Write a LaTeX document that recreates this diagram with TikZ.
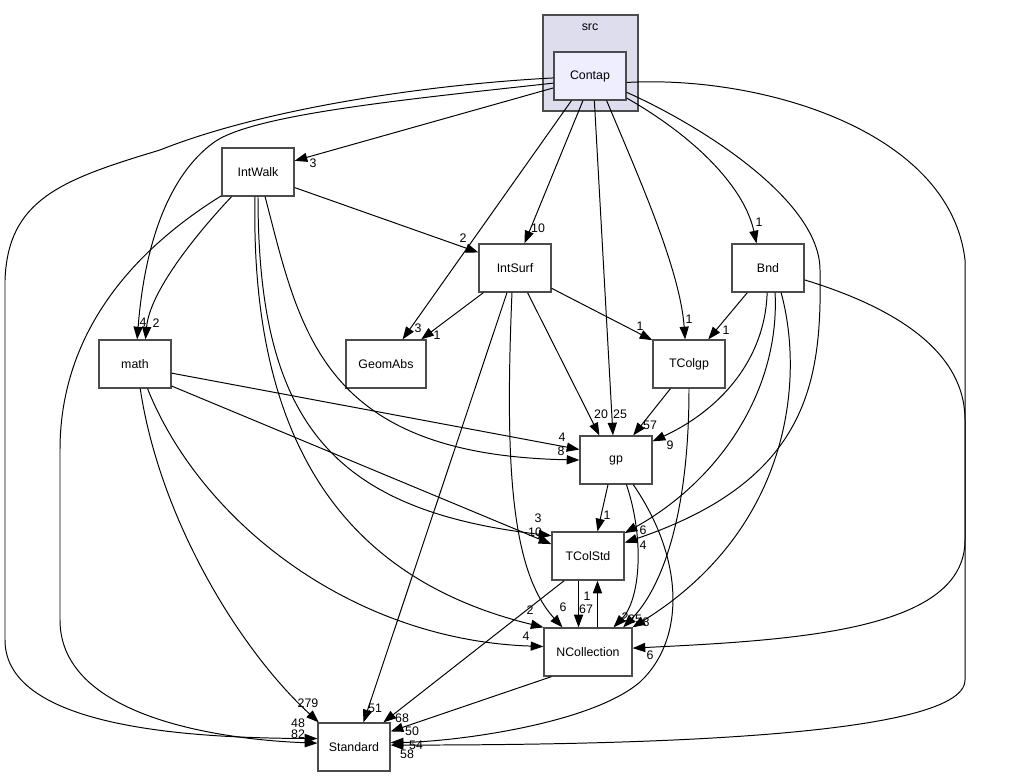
\documentclass[tikz,border=0pt]{standalone}
\usepackage{fontspec}
\setmainfont{Liberation Sans}
\usetikzlibrary{arrows.meta}
\definecolor{clusterbg}{HTML}{DDDDEE}
\definecolor{dirbg}{HTML}{EEEEFF}

\begin{document}
\begin{tikzpicture}[x=0.025cm,y=-0.025cm,>={Triangle[length=9pt,width=6.5pt]},font=\fontsize{8.8}{10}\selectfont]
  \tikzstyle{dir}=[draw=black!70,line width=0.9pt,fill=white,minimum width=1.8cm,minimum height=1.2cm,inner sep=0pt]
  \tikzstyle{dep}=[->,line width=0.7pt]
  \tikzstyle{num}=[inner sep=0pt]
  \useasboundingbox (0,0) rectangle (1021,777);
  % directories
  \node[dir,fill=clusterbg,minimum width=2.375cm,minimum height=2.4cm] (src) at (590.5,63) {};
  \node (srctxt) at (590,27) {src};
  \node[dir,fill=dirbg] (contap) at (590,76) {Contap};
  \node[dir] (intwalk) at (258,172) {IntWalk};
  \node[dir] (intsurf) at (515,268) {IntSurf};
  \node[dir] (bnd) at (768,268) {Bnd};
  \node[dir] (math) at (135,364) {math};
  \node[dir,minimum width=2cm] (geomabs) at (386,364) {GeomAbs};
  \node[dir] (tcolgp) at (689,364) {TColgp};
  \node[dir] (gp) at (616,460) {gp};
  \node[dir] (tcolstd) at (588,556) {TColStd};
  \node[dir,minimum width=2.2cm] (ncollection) at (588,652) {NCollection};
  \node[dir] (standard) at (354,747) {Standard};
  % from Contap
  \draw[dep] (contap.198) -- (intwalk.17);
  \draw[dep] (contap.191) .. controls (400,100) and (250,115) .. (213,143) .. controls (170,175) and (145,240) .. (math.85);
  \draw[dep] (contap.183) .. controls (420,85) and (260,110) .. (160,150) .. controls (60,180) and (8,200) .. (5,280) -- (5,640) .. controls (5,730) and (200,738) .. (standard.167);
  \draw[dep] (contap.233) -- (geomabs.56);
  \draw[dep] (contap.254) -- (intsurf.69);
  \draw[dep] (contap.280) -- (gp.97);
  \draw[dep] (contap.304) .. controls (640,180) and (680,270) .. (tcolgp.99);
  \draw[dep] (contap.329) .. controls (700,140) and (745,190) .. (bnd.115);
  \draw[dep] (contap.336) .. controls (700,125) and (820,200) .. (820,270) .. controls (822,380) and (810,480) .. (tcolstd.20);
  \draw[dep] (contap.350) .. controls (760,75) and (950,130) .. (965,260) -- (965,540) .. controls (965,630) and (800,640) .. (ncollection.5);
  % from IntWalk
  \draw[dep] (intwalk.337) -- (intsurf.157);
  \draw[dep] (intwalk.223) .. controls (200,230) and (150,290) .. (math.67);
  \draw[dep] (intwalk.213) .. controls (150,240) and (60,320) .. (60,450) -- (60,620) .. controls (60,720) and (230,740) .. (standard.174);
  \draw[dep] (intwalk.286) .. controls (300,330) and (320,455) .. (gp.180);
  \draw[dep] (intwalk.270) .. controls (258,420) and (330,510) .. (tcolstd.151);
  \draw[dep] (intwalk.263) .. controls (250,450) and (350,580) .. (ncollection.151);
  % from IntSurf
  \draw[dep] (intsurf.218) -- (geomabs.35);
  \draw[dep] (intsurf.331) -- (tcolgp.147);
  \draw[dep] (intsurf.297) -- (gp.124);
  \draw[dep] (intsurf.252) -- (standard.69);
  \draw[dep] (intsurf.263) .. controls (505,460) and (510,570) .. (ncollection.136);
  % from Bnd
  \draw[dep] (bnd.230) -- (tcolgp.52);
  \draw[dep] (bnd.268) .. controls (765,360) and (720,410) .. (gp.27);
  \draw[dep] (bnd.286) .. controls (780,390) and (720,480) .. (tcolstd.32);
  \draw[dep] (bnd.298) .. controls (805,380) and (790,530) .. (ncollection.29);
  \draw[dep] (bnd.342) .. controls (870,300) and (965,340) .. (965,420) -- (965,680) .. controls (965,740) and (600,745) .. (standard.3);
  % from math
  \draw[dep] (math.346) -- (gp.164.5);
  \draw[dep] (math.329) -- (tcolstd.162);
  \draw[dep] (math.282) .. controls (160,520) and (240,650) .. (standard.145);
  \draw[dep] (math.297) .. controls (200,520) and (350,640) .. (ncollection.173.5);
  % from TColgp
  \draw[dep] (tcolgp.233) -- (gp.55);
  \draw[dep] (tcolgp.270) .. controls (689,520) and (660,590) .. (ncollection.35);
  % from gp
  \draw[dep] (gp.252) -- (tcolstd.69);
  \draw[dep] (gp.293) .. controls (645,540) and (640,600) .. (ncollection.44);
  \draw[dep] (gp.305) .. controls (685,560) and (685,640) .. (640,682) .. controls (590,725) and (450,742) .. (standard.7);
  % TColStd, NCollection
  \draw[dep] (tcolstd.249) -- (ncollection.111);
  \draw[dep] (ncollection.69) -- (tcolstd.291);
  \draw[dep] (tcolstd.226) -- (standard.40);
  \draw[dep] (ncollection.214) -- (standard.23);
  % counts
  \node[num] (w1) at (313,163) {3};
  \node[num] (w2) at (143,322) {4};
  \node[num] (w3) at (156,323) {2};
  \node[num] (w4) at (463,238) {2};
  \node[num] (w5) at (538,228) {10};
  \node[num] (w6) at (418,328) {3};
  \node[num] (w7) at (437,335) {1};
  \node[num] (w8) at (640,326) {1};
  \node[num] (w9) at (689,319) {1};
  \node[num] (w10) at (726,330) {1};
  \node[num] (w11) at (759,222) {1};
  \node[num] (w12) at (601,414) {20};
  \node[num] (w13) at (620,414) {25};
  \node[num] (w14) at (650,425) {57};
  \node[num] (w15) at (670,445) {9};
  \node[num] (w16) at (562,437) {4};
  \node[num] (w17) at (561,451) {8};
  \node[num] (w18) at (607,515) {1};
  \node[num] (w19) at (538,518) {3};
  \node[num] (w20) at (535,532) {10};
  \node[num] (w21) at (643,530) {6};
  \node[num] (w22) at (643,545) {4};
  \node[num] (w23) at (530,610) {2};
  \node[num] (w24) at (563,607) {6};
  \node[num] (w25) at (587,596) {1};
  \node[num] (w26) at (586,609) {67};
  \node[num] (w27) at (625,617) {2};
  \node[num] (w28) at (635,619) {25};
  \node[num] (w29) at (646,622) {8};
  \node[num] (w30) at (526,636) {4};
  \node[num] (w31) at (650,655) {6};
  \node[num] (w32) at (308,703) {279};
  \node[num] (w33) at (375,708) {51};
  \node[num] (w34) at (298,723) {48};
  \node[num] (w35) at (298,734) {82};
  \node[num] (w36) at (402,718) {68};
  \node[num] (w37) at (412,731) {50};
  \node[num] (w38) at (416,745) {54};
  \node[num] (w39) at (407,754) {58};
\end{tikzpicture}
\end{document}
